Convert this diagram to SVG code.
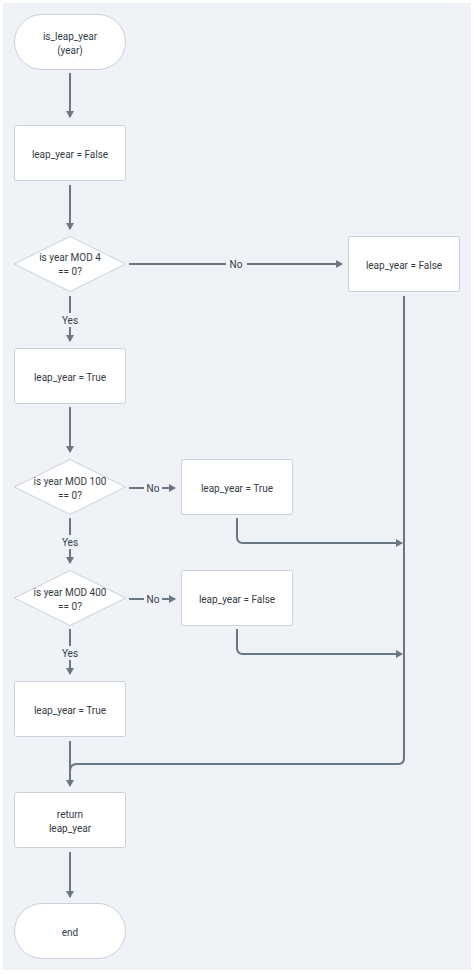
<svg xmlns="http://www.w3.org/2000/svg" width="474" height="974" viewBox="0 0 474 974">
<defs>
<marker id="ah" markerWidth="8" markerHeight="8" refX="6" refY="4" orient="auto" markerUnits="userSpaceOnUse">
<path d="M0,0 L7,4 L0,8 Z" fill="#6b7785"/>
</marker>
<style>
.n{fill:#ffffff;stroke:#c9d0d8;stroke-width:1}
.t{font-family:Roboto,"Noto Sans",sans-serif;font-size:10px;fill:#333b45;text-anchor:middle;dominant-baseline:central}
.e{fill:none;stroke:#6b7785;stroke-width:2}
.lb{fill:#eff3f8}
</style>
</defs>
<rect x="0" y="0" width="474" height="974" fill="#ffffff"/>
<rect x="3" y="3" width="468" height="967" fill="#eff3f8"/>
<g id="connectors">
<path class="e" d="M70,73 V117" marker-end="url(#ah)"/>
<path class="e" d="M70,185 V229" marker-end="url(#ah)"/>
<path class="e" d="M129,264 H342" marker-end="url(#ah)"/>
<path class="e" d="M70,296 V341" marker-end="url(#ah)"/>
<path class="e" d="M70,407 V452" marker-end="url(#ah)"/>
<path class="e" d="M129,488 H175" marker-end="url(#ah)"/>
<path class="e" d="M70,518 V563" marker-end="url(#ah)"/>
<path class="e" d="M129,599 H175" marker-end="url(#ah)"/>
<path class="e" d="M70,629 V674" marker-end="url(#ah)"/>
<path class="e" d="M70,741 V786" marker-end="url(#ah)"/>
<path class="e" d="M70,852 V897" marker-end="url(#ah)"/>
<path class="e" d="M237,518 V537 Q237,543 243,543 H402" marker-end="url(#ah)"/>
<path class="e" d="M237,629 V648 Q237,654 243,654 H402" marker-end="url(#ah)"/>
<path class="e" d="M404,296 V758 Q404,764 398,764 H77 Q70,764 70,771"/>
<rect class="lb" x="226" y="257" width="21" height="14"/>
<text class="t" x="236" y="264">No</text>
<rect class="lb" x="59" y="313" width="22" height="14"/>
<text class="t" x="70" y="320">Yes</text>
<rect class="lb" x="144" y="481" width="18" height="14"/>
<text class="t" x="153" y="488">No</text>
<rect class="lb" x="59" y="535" width="22" height="14"/>
<text class="t" x="70" y="542">Yes</text>
<rect class="lb" x="144" y="592" width="18" height="14"/>
<text class="t" x="153" y="599">No</text>
<rect class="lb" x="59" y="646" width="22" height="14"/>
<text class="t" x="70" y="653">Yes</text>
</g>
<g id="start">
<rect class="n" x="14.5" y="14.5" width="111" height="55" rx="27.5"/>
<text class="t" x="70" y="36">is_leap_year</text>
<text class="t" x="70" y="50">(year)</text>
</g>
<g id="init">
<rect class="n" x="14.5" y="125.5" width="111" height="55" rx="2"/>
<text class="t" x="70" y="154">leap_year = False</text>
</g>
<g id="mod4">
<path class="n" d="M70,236.5 L125.5,264 L70,291.5 L14.5,264 Z"/>
<text class="t" x="70" y="257">is year MOD 4</text>
<text class="t" x="70" y="271">== 0?</text>
</g>
<g id="false1">
<rect class="n" x="348.5" y="236.5" width="111" height="55" rx="2"/>
<text class="t" x="404" y="265">leap_year = False</text>
</g>
<g id="true1">
<rect class="n" x="14.5" y="348.5" width="111" height="55" rx="2"/>
<text class="t" x="70" y="377">leap_year = True</text>
</g>
<g id="mod100">
<path class="n" d="M70,459.5 L125.5,487 L70,514.5 L14.5,487 Z"/>
<text class="t" x="70" y="481">is year MOD 100</text>
<text class="t" x="70" y="495">== 0?</text>
</g>
<g id="true2">
<rect class="n" x="181.5" y="459.5" width="111" height="55" rx="2"/>
<text class="t" x="237" y="488">leap_year = True</text>
</g>
<g id="mod400">
<path class="n" d="M70,570.5 L125.5,598 L70,625.5 L14.5,598 Z"/>
<text class="t" x="70" y="592">is year MOD 400</text>
<text class="t" x="70" y="606">== 0?</text>
</g>
<g id="false2">
<rect class="n" x="181.5" y="570.5" width="111" height="55" rx="2"/>
<text class="t" x="237" y="599">leap_year = False</text>
</g>
<g id="true3">
<rect class="n" x="14.5" y="681.5" width="111" height="55" rx="2"/>
<text class="t" x="70" y="710">leap_year = True</text>
</g>
<g id="ret">
<rect class="n" x="14.5" y="792.5" width="111" height="55" rx="2"/>
<text class="t" x="70" y="814">return</text>
<text class="t" x="70" y="828">leap_year</text>
</g>
<g id="end">
<rect class="n" x="14.5" y="903.5" width="111" height="55" rx="27.5"/>
<text class="t" x="70" y="932">end</text>
</g>
</svg>
